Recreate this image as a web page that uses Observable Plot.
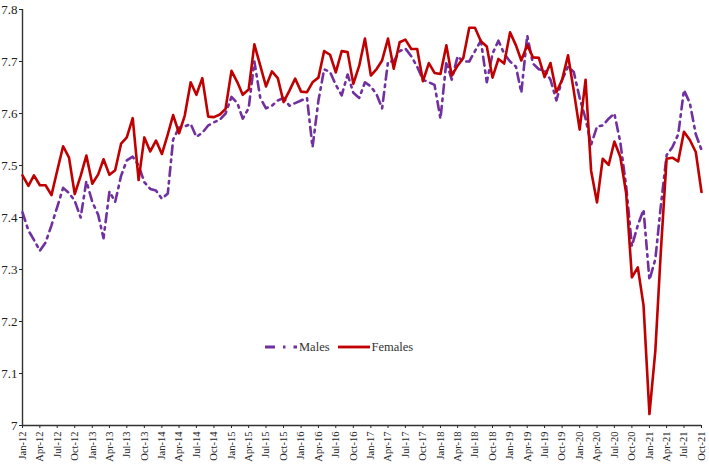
<!DOCTYPE html>
<html><head><meta charset="utf-8">
<script src="https://cdn.jsdelivr.net/npm/d3@7"></script>
<script src="https://cdn.jsdelivr.net/npm/@observablehq/plot@0.6"></script>
<style>
body{margin:0;background:#fff;}
#wrap{position:relative;width:709px;height:464px;font-family:"Liberation Serif","Times New Roman",serif;}
#legend{position:absolute;top:340px;left:265px;display:flex;align-items:center;font-size:12.5px;color:#333;line-height:14px;}
#legend .item{display:flex;align-items:center;margin-right:8px;}
#legend svg{display:block;margin-right:2px;}
</style></head><body><div id="wrap"><div id="legend"></div></div>
<script>
// Monthly series, Jan-12 .. Oct-21
const firstMonth = [2012, 0];
const lastMonth = [2021, 9];
const seriesNames = ["Males", "Females"];
const seriesColors = ["#7030a0", "#c00000"];
const males = [
 7.41,7.375,7.357,7.336,7.352,7.385,7.42,7.457,7.447,7.432,7.40,7.47,
 7.43,7.405,7.36,7.45,7.43,7.48,7.51,7.517,7.50,7.468,7.455,7.452,
 7.436,7.446,7.55,7.573,7.575,7.58,7.555,7.563,7.577,7.583,7.588,7.60,
 7.632,7.62,7.59,7.61,7.70,7.63,7.61,7.615,7.625,7.63,7.615,7.62,
 7.625,7.63,7.535,7.625,7.685,7.68,7.655,7.635,7.675,7.64,7.63,7.66,
 7.652,7.636,7.61,7.70,7.70,7.72,7.725,7.71,7.69,7.665,7.66,7.655,
 7.59,7.70,7.665,7.71,7.70,7.70,7.72,7.74,7.66,7.715,7.74,7.715,
 7.70,7.69,7.64,7.75,7.696,7.685,7.683,7.665,7.625,7.665,7.69,7.68,
 7.63,7.59,7.54,7.575,7.577,7.59,7.60,7.545,7.46,7.345,7.385,7.415,
 7.28,7.32,7.42,7.52,7.535,7.56,7.645,7.62,7.56,7.53
];
const females = [
 7.481,7.461,7.481,7.462,7.462,7.443,7.49,7.537,7.515,7.445,7.480,7.519,
 7.465,7.483,7.512,7.482,7.491,7.542,7.554,7.591,7.472,7.554,7.527,7.548,
 7.522,7.560,7.597,7.562,7.596,7.660,7.636,7.668,7.594,7.593,7.598,7.609,
 7.682,7.660,7.636,7.646,7.733,7.692,7.652,7.681,7.668,7.622,7.644,7.667,
 7.642,7.641,7.660,7.669,7.720,7.713,7.679,7.720,7.718,7.657,7.692,7.744,
 7.673,7.686,7.702,7.744,7.686,7.737,7.742,7.724,7.724,7.662,7.697,7.678,
 7.676,7.731,7.673,7.692,7.707,7.765,7.765,7.739,7.729,7.669,7.705,7.696,
 7.756,7.731,7.702,7.732,7.708,7.707,7.670,7.697,7.641,7.665,7.712,7.644,
 7.569,7.665,7.490,7.429,7.513,7.501,7.546,7.517,7.446,7.285,7.304,7.231,
 7.022,7.144,7.33,7.513,7.515,7.508,7.565,7.549,7.526,7.449
];
const yTicks = [7, 7.1, 7.2, 7.3, 7.4, 7.5, 7.6, 7.7, 7.8];
const xTickEveryMonths = 3;

const months = d3.utcMonth.range(
  new Date(Date.UTC(firstMonth[0], firstMonth[1], 1)),
  d3.utcMonth.offset(new Date(Date.UTC(lastMonth[0], lastMonth[1], 1)), 1)
);
const maleRows = months.map((d, i) => ({date: d, value: males[i]}));
const femaleRows = months.map((d, i) => ({date: d, value: females[i]}));
const xTicks = months.filter((d, i) => i % xTickEveryMonths === 0);
const dash = "9,5,2.5,5";

const chart = Plot.plot({
  width: 709, height: 464,
  marginLeft: 22, marginRight: 8, marginTop: 9, marginBottom: 39,
  style: {fontFamily: "'Liberation Serif','Times New Roman',serif", color: "#222", background: "white", overflow: "visible"},
  x: {type: "utc", domain: [months[0], months[months.length - 1]]},
  y: {domain: [7, 7.8]},
  marks: [
    Plot.axisY({ticks: yTicks, tickFormat: d => String(+d.toFixed(1)), tickSize: 3, tickPadding: 2, fontSize: 13, label: null}),
    Plot.axisX({ticks: xTicks, tickFormat: d3.utcFormat("%b-%y"), tickRotate: -90, tickSize: 3, tickPadding: 3, fontSize: 10.5, label: null}),
    Plot.ruleY([7], {stroke: "#333", strokeWidth: 1.4}),
    Plot.ruleX([months[0]], {stroke: "#333", strokeWidth: 1.4}),
    Plot.line(maleRows, {x: "date", y: "value", stroke: seriesColors[0], strokeWidth: 2.6, strokeDasharray: dash}),
    Plot.line(femaleRows, {x: "date", y: "value", stroke: seriesColors[1], strokeWidth: 2.6})
  ]
});
const wrap = document.getElementById("wrap");
wrap.insertBefore(chart, wrap.firstChild);

const legend = document.getElementById("legend");
seriesNames.forEach((name, k) => {
  const item = document.createElement("div");
  item.className = "item";
  const dashAttr = k === 0 ? ` stroke-dasharray="10,8,2.5,8"` : "";
  item.innerHTML = `<svg width="32" height="6"><line x1="0" y1="3" x2="32" y2="3" stroke="${seriesColors[k]}" stroke-width="2.8"${dashAttr}/></svg><span>${name}</span>`;
  legend.appendChild(item);
});
</script></body></html>
